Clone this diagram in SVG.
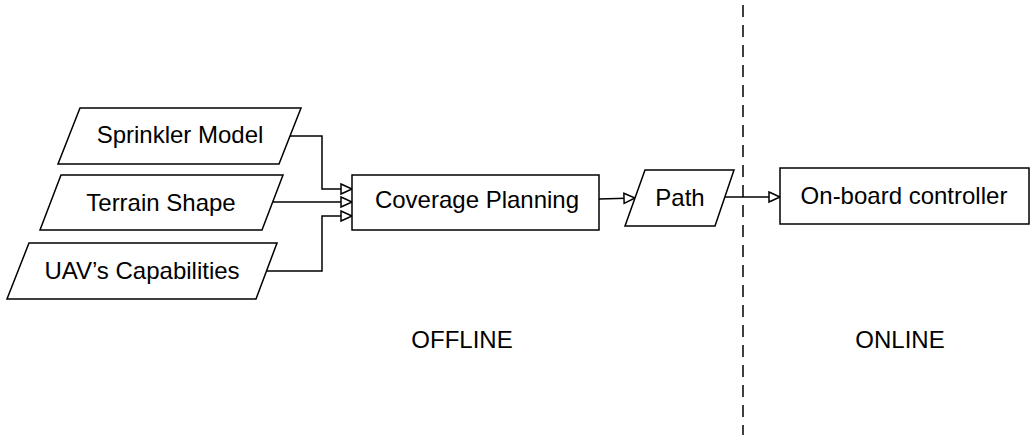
<svg xmlns="http://www.w3.org/2000/svg" width="1034" height="435" viewBox="0 0 1034 435">
<style>
.s{fill:#fff;stroke:#000;stroke-width:1.5}
.t{font-family:"Liberation Sans",Arial,sans-serif;font-size:24px;fill:#000;text-anchor:middle}
.c{fill:none;stroke:#000;stroke-width:1.5}
</style>
<defs>
<marker id="a" markerWidth="14" markerHeight="14" refX="12" refY="6" orient="auto" markerUnits="userSpaceOnUse">
<path d="M1,1 L12,6 L1,11 Z" fill="#fff" stroke="#000" stroke-width="1.5"/>
</marker>
</defs>
<rect width="1034" height="435" fill="#fff"/>
<line x1="743" y1="5" x2="743" y2="435" stroke="#000" stroke-width="1.5" stroke-dasharray="12,8"/>
<g id="connectors">
<path class="c" d="M290,136 H322 V189 H352" marker-end="url(#a)"/>
<path class="c" d="M272,202 H352" marker-end="url(#a)"/>
<path class="c" d="M267,271 H322 V216 H352" marker-end="url(#a)"/>
<path class="c" d="M599,199 L635,198" marker-end="url(#a)"/>
<path class="c" d="M725,197 H780" marker-end="url(#a)"/>
</g>
<g id="sprinkler">
<polygon class="s" points="80,108 301,108 279,164 58,164"/>
<text class="t" x="180" y="143">Sprinkler Model</text>
</g>
<g id="terrain">
<polygon class="s" points="61,175 283,175 262,230 40,230"/>
<text class="t" x="161" y="211">Terrain Shape</text>
</g>
<g id="uav">
<polygon class="s" points="29,243 277,243 256,299 7,299"/>
<text class="t" x="142" y="279">UAV’s Capabilities</text>
</g>
<g id="coverage">
<rect class="s" x="352" y="175" width="247" height="55"/>
<text class="t" x="477" y="208">Coverage Planning</text>
</g>
<g id="path">
<polygon class="s" points="645,170 734,170 715,226 625,226"/>
<text class="t" x="680" y="206">Path</text>
</g>
<g id="controller">
<rect class="s" x="780" y="168" width="249" height="56"/>
<text class="t" x="904" y="204">On-board controller</text>
</g>
<text class="t" x="462" y="348">OFFLINE</text>
<text class="t" x="900" y="348">ONLINE</text>
</svg>
